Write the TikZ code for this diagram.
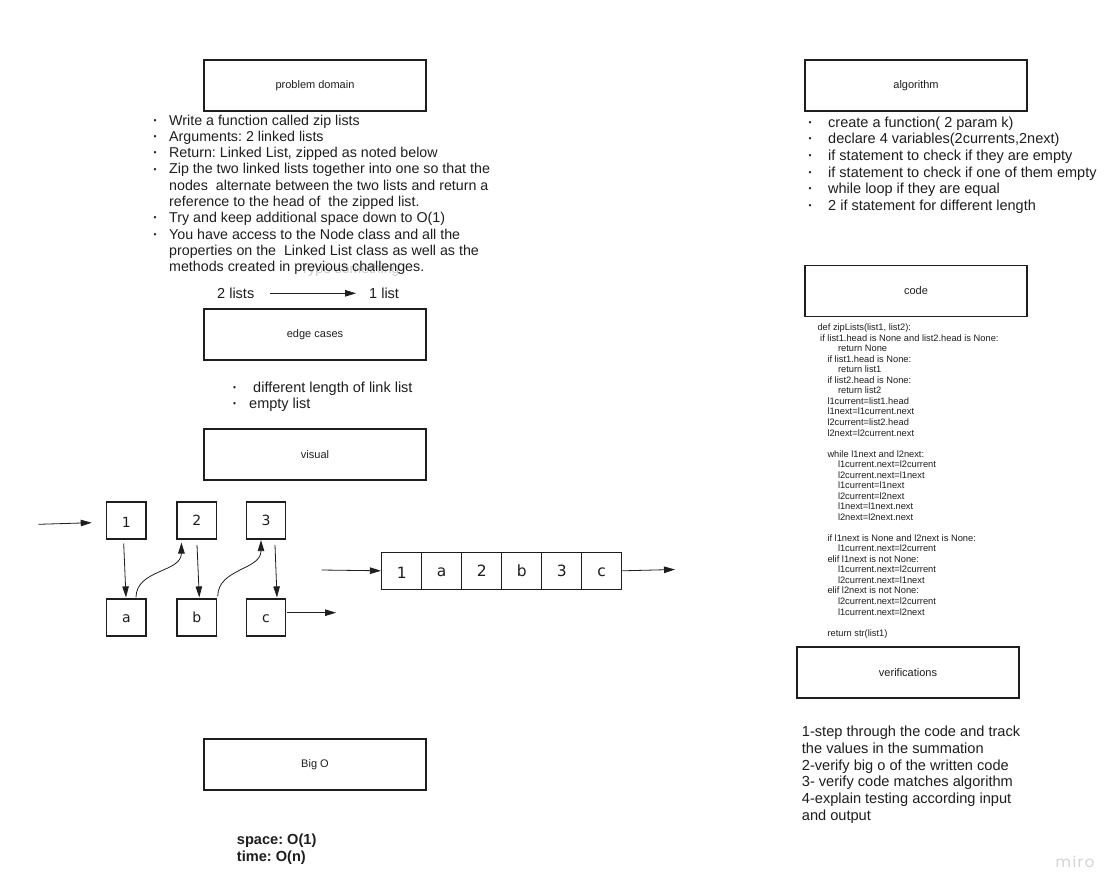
\documentclass[tikz,border=0pt]{standalone}
\usepackage{fontspec}
\setmainfont{Liberation Sans}
\newfontfamily\cellfont{DejaVu Sans}
\newfontfamily\mirofont[LetterSpace=10]{Poppins}
\usetikzlibrary{arrows.meta,calc}
\frenchspacing

\definecolor{ink}{HTML}{1E1E1E}
\newcommand\bulletmark{\raisebox{0.25ex}{\fontsize{8.5}{8.5}\selectfont\textbullet}}
\newcommand\ia{\hspace*{2.7pt}}
\newcommand\ib{\hspace*{10pt}}
\newcommand\ic{\hspace*{20.5pt}}

\begin{document}
\begin{tikzpicture}[x=1pt,y=-1pt,
  titlebox/.style={draw=ink, line width=1.6pt, minimum width=222pt, minimum height=51pt,
    inner sep=0pt, font=\fontsize{11}{13}\selectfont, text=ink},
  cell/.style={draw=ink, line width=1.5pt, minimum width=39.3pt, minimum height=37.3pt,
    inner sep=0pt, text height=10.2pt, text depth=0pt,
    font=\cellfont\fontsize{14}{14}\selectfont, text=ink},
  mcell/.style={cell, minimum width=40pt, minimum height=37pt, text height=11.3pt,
    font=\cellfont\fontsize{15.5}{15.5}\selectfont},
  link/.style={draw=ink, line width=0.8pt, -{Triangle[length=11pt,width=6.5pt]}},
  bodytext/.style={inner sep=0pt, text=ink, align=left},
]
\useasboundingbox[fill=white] (0,0) rectangle (1118,894);

% ---------- section headers ----------
\node[titlebox] (pd)    at (315,85.5)  {problem domain};
\node[titlebox] (alg)   at (916,85.5)  {algorithm};
\node[titlebox] (code)  at (916,291)   {code};
\node[titlebox] (edge)  at (315,334.5) {edge cases};
\node[titlebox] (vis)   at (315,454.5) {visual};
\node[titlebox] (verif) at (908,672.5) {verifications};
\node[titlebox] (bigo)  at (315,764.5) {Big O};

% ---------- problem domain ----------
\node[text=black!20, inner sep=0pt, anchor=base, font=\fontsize{14}{14}\selectfont]
  (ghost) at (350,273) {Type something};
\node[bodytext, anchor=base west] (pdlist) at (153.5,125) {\fontsize{14.25}{16.3}\selectfont
\begin{tabular}[t]{@{}p{15.5pt}@{}l@{}}
\bulletmark & Write a function called zip lists\\
\bulletmark & Arguments: 2 linked lists\\
\bulletmark & Return: Linked List, zipped as noted below\\
\bulletmark & Zip the two linked lists together into one so that the\\
 & nodes\ \ alternate between the two lists and return a\\
 & reference to the head of\ \ the zipped list.\\
\bulletmark & Try and keep additional space down to O(1)\\
\bulletmark & You have access to the Node class and all the\\
 & properties on the\ \ Linked List class as well as the\\
 & methods created in previous challenges.
\end{tabular}};

% ---------- 2 lists -> 1 list ----------
\node[bodytext, anchor=base west, font=\fontsize{14.5}{14.5}\selectfont] (twolists) at (217,298) {2 lists};
\node[bodytext, anchor=base west, font=\fontsize{14.5}{14.5}\selectfont] (onelist) at (369,298) {1 list};
\draw[link] ($(twolists.base east)+(16,-4.7)$) -- ($(onelist.base west)+(-13,-4.7)$);

% ---------- edge cases ----------
\node[bodytext, anchor=base west] (edgelist) at (233,392) {\fontsize{14.5}{16}\selectfont
\begin{tabular}[t]{@{}p{16pt}@{}l@{}}
\bulletmark & \ different length of link list\\
\bulletmark & empty list
\end{tabular}};

% ---------- visual: two input lists ----------
\node[cell] (n1) at (126.35,520.4) {\raisebox{-2pt}{1}};
\node[cell] (n2) at (196.85,520.4) {2};
\node[cell] (n3) at (266,520.4)    {3};
\node[cell] (na) at (126.35,617.5) {a};
\node[cell] (nb) at (196.85,617.5) {b};
\node[cell] (nc) at (266,617.5)    {c};

\coordinate (inA) at (38.3,524.3);
\coordinate (inB) at (91.7,522.7);
\coordinate (cOut) at (336,612.7);
\draw[link] (inA) -- (inB);
\draw[link] ($(n1.south)+(-2.65,3.7)$) -- ($(na.north)+(-0.35,-0.7)$);
\draw[link] ($(n2.south)+(0.15,5)$) -- ($(nb.north)+(2.45,-0.7)$);
\draw[link] ($(n3.south)+(9,5)$) -- ($(nc.north)+(11,-0.7)$);
\draw[link] ($(na.north)+(9.65,-0.7)$) .. controls +(0,-28) and +(0,30) .. ($(n2.south west)+(5,2.7)$);
\draw[link] ($(nb.north east)+(0.5,-1.7)$) .. controls +(0,-28) and +(0,30) .. ($(n3.south)+(-5,0.3)$);
\draw[link] ($(nc.east)+(0.7,-4.8)$) -- (cOut);

% ---------- visual: zipped list ----------
\node[mcell] (m1) at (401.7,570.8) {\raisebox{-2.5pt}{1}};
\node[mcell] (m2) at (441.7,570.8) {a};
\node[mcell] (m3) at (481.7,570.8) {2};
\node[mcell] (m4) at (521.7,570.8) {b};
\node[mcell] (m5) at (561.7,570.8) {3};
\node[mcell] (m6) at (601.7,570.8) {c};
\coordinate (mIn) at (321.7,570);
\coordinate (mOut) at (675,569.5);
\draw[link] (mIn) -- (m1.west);
\draw[link] (m6.east) -- (mOut);

% ---------- algorithm ----------
\node[bodytext, anchor=base west] (alglist) at (808.5,127) {\fontsize{14.5}{16.7}\selectfont
\begin{tabular}[t]{@{}p{19.5pt}@{}l@{}}
\bulletmark & create a function( 2 param k)\\
\bulletmark & declare 4 variables(2currents,2next)\\
\bulletmark & if statement to check if they are empty\\
\bulletmark & if statement to check if one of them empty\\
\bulletmark & while loop if they are equal\\
\bulletmark & 2 if statement for different length
\end{tabular}};

% ---------- code ----------
\node[bodytext, anchor=base west] (codetext) at (817.3,330.7) {\fontsize{9.3}{10.53}\selectfont
\begin{tabular}[t]{@{}l@{}}
def zipLists(list1, list2):\\
\ia if list1.head is None and list2.head is None:\\
\ic return None\\
\ib if list1.head is None:\\
\ic return list1\\
\ib if list2.head is None:\\
\ic return list2\\
\ib l1current=list1.head\\
\ib l1next=l1current.next\\
\ib l2current=list2.head\\
\ib l2next=l2current.next\\
\\
\ib while l1next and l2next:\\
\ic l1current.next=l2current\\
\ic l2current.next=l1next\\
\ic l1current=l1next\\
\ic l2current=l2next\\
\ic l1next=l1next.next\\
\ic l2next=l2next.next\\
\\
\ib if l1next is None and l2next is None:\\
\ic l1current.next=l2current\\
\ib elif l1next is not None:\\
\ic l1current.next=l2current\\
\ic l2current.next=l1next\\
\ib elif l2next is not None:\\
\ic l2current.next=l2current\\
\ic l1current.next=l2next\\
\\
\ib return str(list1)
\end{tabular}};

% ---------- verifications ----------
\node[bodytext, anchor=base west] (veriftext) at (801.7,736.7) {\fontsize{14.6}{16.7}\selectfont
\begin{tabular}[t]{@{}l@{}}
1-step through the code and track\\
the values in the summation\\
2-verify big o of the written code\\
3- verify code matches algorithm\\
4-explain testing according input\\
and output
\end{tabular}};

% ---------- Big O ----------
\node[bodytext, anchor=base west] (bigotext) at (236.7,844) {\fontsize{14.6}{17}\selectfont\bfseries
\begin{tabular}[t]{@{}l@{}}
space: O(1)\\
time: O(n)
\end{tabular}};

% ---------- logo ----------
\node[inner sep=0pt, text=black!17, font=\mirofont\fontsize{15}{15}\selectfont]
  (logo) at (1075,862) {miro};
\end{tikzpicture}
\end{document}
